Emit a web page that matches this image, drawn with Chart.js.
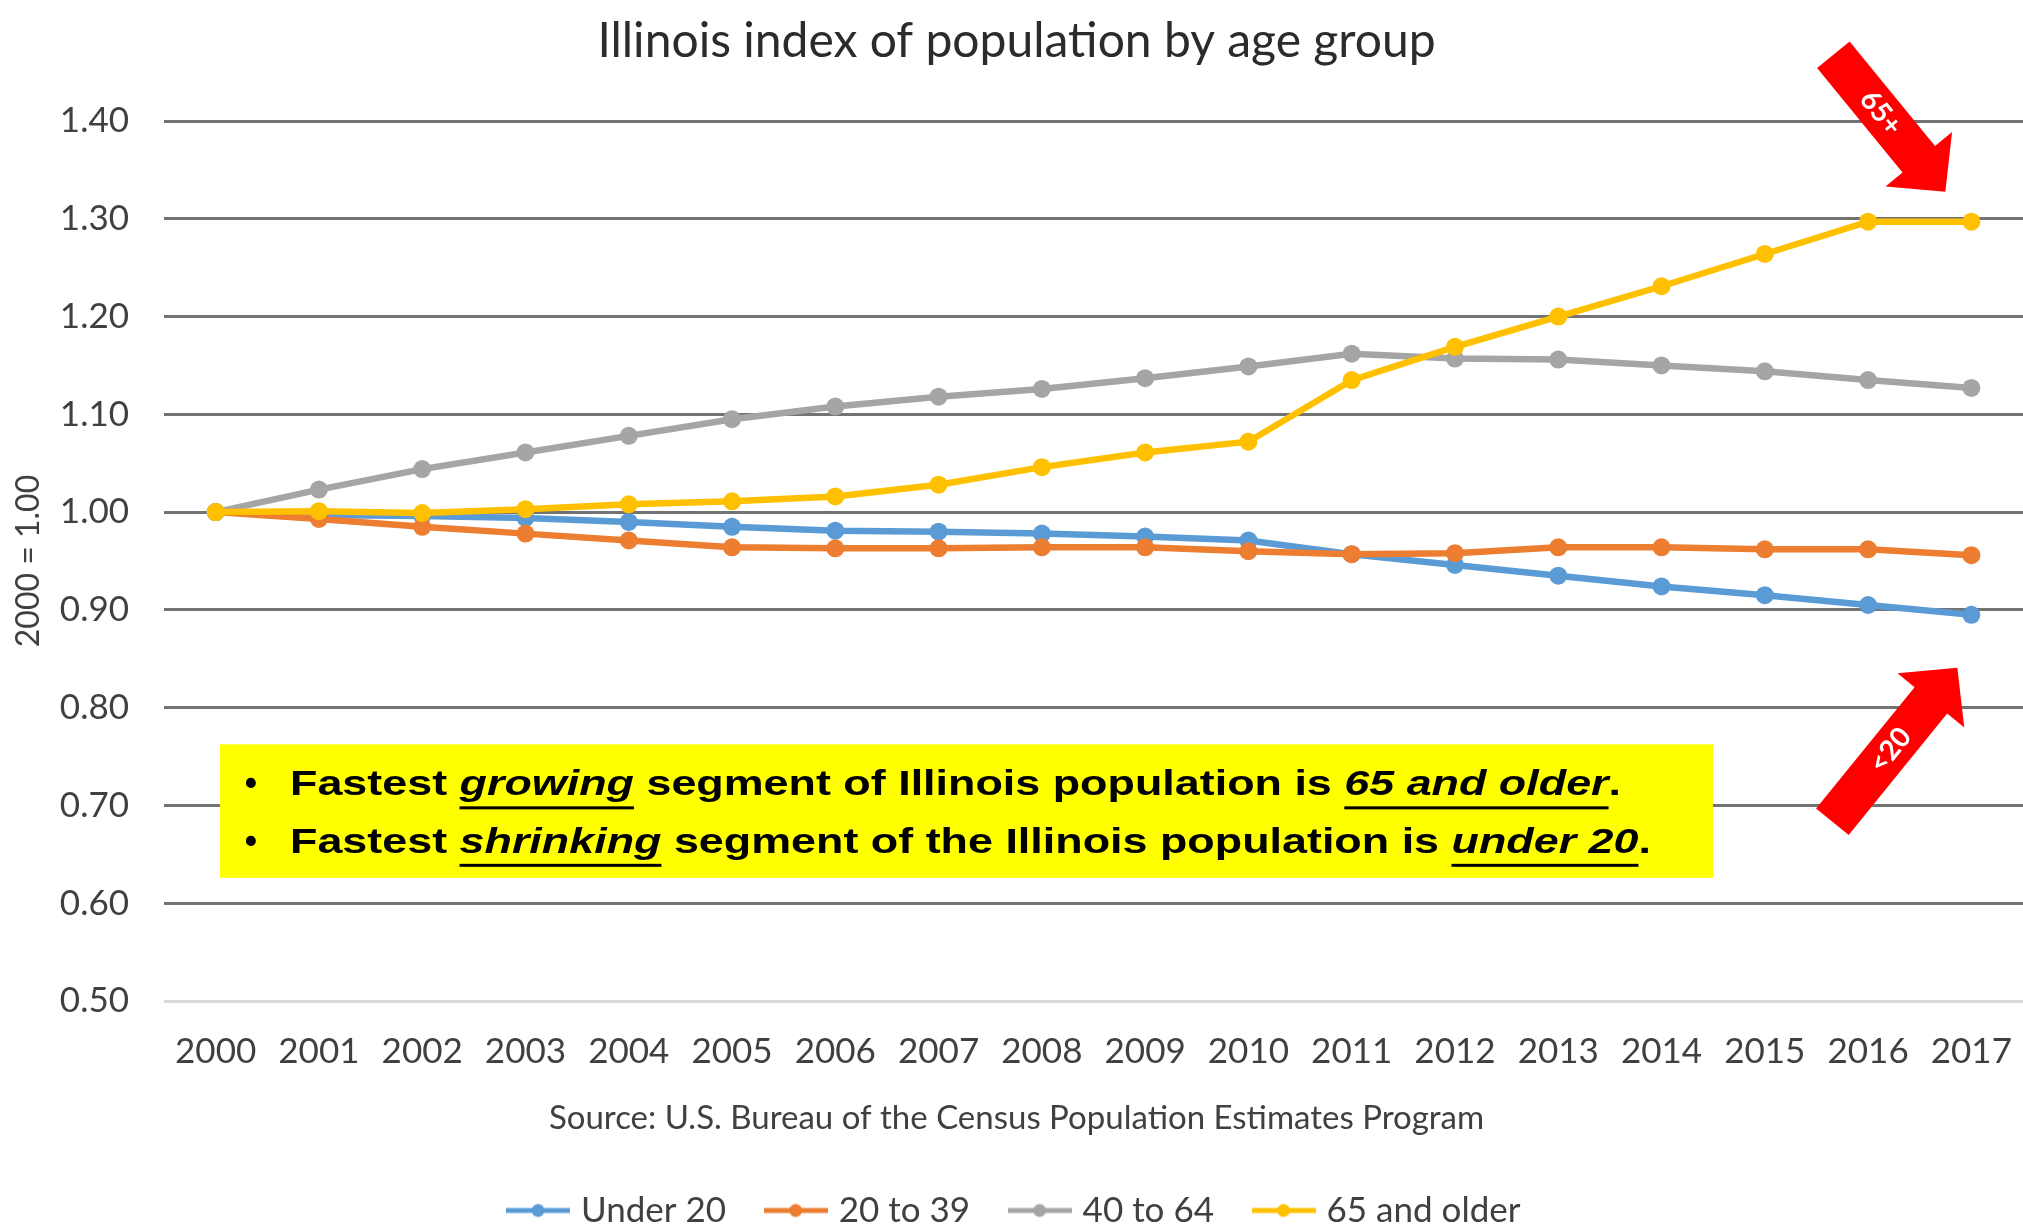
<!DOCTYPE html>
<html>
<head>
<meta charset="utf-8">
<title>Illinois index of population by age group</title>
<script src="https://cdn.jsdelivr.net/npm/chart.js@4.4.1/dist/chart.umd.min.js"></script>
<style>
  html, body { margin: 0; padding: 0; background: #fff; }
  #wrap { width: 2023px; height: 1225px; position: relative; }
</style>
</head>
<body>
<div id="wrap"><canvas id="popChart"></canvas></div>
<script>
const years = ['2000', '2001', '2002', '2003', '2004', '2005', '2006', '2007', '2008',
    '2009', '2010', '2011', '2012', '2013', '2014', '2015', '2016', '2017']

const under20 = [1.000, 0.997, 0.996, 0.994, 0.990, 0.985, 0.981, 0.980, 0.978,
    0.975, 0.971, 0.957, 0.946, 0.935, 0.924, 0.915, 0.905, 0.895]
const age20to39 = [1.000, 0.993, 0.985, 0.978, 0.971, 0.964, 0.963, 0.963, 0.964,
    0.964, 0.960, 0.957, 0.958, 0.964, 0.964, 0.962, 0.962, 0.956]
const age40to64 = [1.000, 1.023, 1.044, 1.061, 1.078, 1.095, 1.108, 1.118, 1.126,
    1.137, 1.149, 1.162, 1.157, 1.156, 1.150, 1.144, 1.135, 1.127]
const age65plus = [1.000, 1.001, 0.999, 1.003, 1.008, 1.011, 1.016, 1.028, 1.046,
    1.061, 1.072, 1.135, 1.169, 1.200, 1.231, 1.264, 1.297, 1.297]

const yTickValues = [0.5, 0.6, 0.7, 0.8, 0.9, 1.0, 1.1, 1.2, 1.3, 1.4]

const seriesNames = ['Under 20', '20 to 39', '40 to 64', '65 and older']
const seriesColors = ['#5B9BD5', '#ED7D31', '#A5A5A5', '#FFC000']

// yellow call-out text, italic parts are underlined
const noteLines = [
    [['Fastest ', false], ['growing', true], [' segment of Illinois population is ', false], ['65 and older', true], ['.', false]],
    [['Fastest ', false], ['shrinking', true], [' segment of the Illinois population is ', false], ['under 20', true], ['.', false]]
]

const textColor = '#404040'

// legend marker: short line with a dot, like Excel
const makeIcon = color => {
    const c = document.createElement('canvas')
    c.width = 64
    c.height = 20
    const g = c.getContext('2d')
    g.strokeStyle = color
    g.lineWidth = 5
    g.beginPath()
    g.moveTo(0, 10)
    g.lineTo(64, 10)
    g.stroke()
    g.fillStyle = color
    g.beginPath()
    g.arc(32, 10, 6.5, 0, Math.PI * 2)
    g.fill()
    return c
}
const legendIcons = seriesColors.map(makeIcon)

const drawArrow = (ctx, tx, ty, hx, hy, label, at) => {
    const len = Math.hypot(hx - tx, hy - ty)
    ctx.save()
    ctx.translate(tx, ty)
    ctx.rotate(Math.atan2(hy - ty, hx - tx))
    ctx.fillStyle = '#FF0000'
    ctx.beginPath()
    ctx.moveTo(0, -21)
    ctx.lineTo(len - 42, -21)
    ctx.lineTo(len - 42, -43)
    ctx.lineTo(len, 0)
    ctx.lineTo(len - 42, 43)
    ctx.lineTo(len - 42, 21)
    ctx.lineTo(0, 21)
    ctx.closePath()
    ctx.fill()
    ctx.fillStyle = '#fff'
    ctx.font = 'bold 28px Lato'
    ctx.textAlign = 'center'
    ctx.textBaseline = 'middle'
    ctx.fillText(label, at, 0)
    ctx.restore()
}

const notesPlugin = {
    id: 'notes',
    afterDraw(chart) {
        const ctx = chart.ctx
        const x = chart.scales.x
        const y = chart.scales.y
        const area = chart.chartArea

        // yellow box
        const left = area.left + 56
        const right = area.left + 1549
        const top = y.getPixelForValue(0.7625)
        const bottom = y.getPixelForValue(0.626)
        ctx.save()
        ctx.fillStyle = '#FFFF00'
        ctx.fillRect(left, top, right - left, bottom - top)

        const fontFor = it => (it ? 'italic ' : '') + 'bold 35px "Liberation Sans", Arial, sans-serif'
        const widthOf = parts => parts.reduce((w, [t, it]) => {
            ctx.font = fontFor(it)
            return w + ctx.measureText(t).width
        }, 0)
        const sx = 1331 / widthOf(noteLines[0])

        ctx.fillStyle = '#000'
        ctx.textBaseline = 'alphabetic'
        noteLines.forEach((parts, i) => {
            const base = top + 51 + i * 57.5
            ctx.font = fontFor(false)
            ctx.textAlign = 'center'
            ctx.fillText('\u2022', left + 31, base)
            ctx.save()
            ctx.translate(left + 70, base)
            ctx.scale(sx, 1)
            ctx.textAlign = 'left'
            let cx = 0
            parts.forEach(([t, it]) => {
                ctx.font = fontFor(it)
                const w = ctx.measureText(t).width
                ctx.fillText(t, cx, 0)
                if (it) ctx.fillRect(cx, 11, w, 3)
                cx += w
            })
            ctx.restore()
        })
        ctx.restore()

        // red arrows pointing at the last points
        const last = years.length - 1
        const tip1x = x.getPixelForValue(last) - 26
        const tip1y = y.getPixelForValue(age65plus[last]) - 30
        drawArrow(ctx, tip1x - 112, tip1y - 137, tip1x, tip1y, '65+', 75)

        const tip2x = x.getPixelForValue(last) - 14
        const tip2y = y.getPixelForValue(under20[last]) + 53
        drawArrow(ctx, tip2x - 125, tip2y + 154, tip2x, tip2y, '<20', 92)
    }
}

const makeSet = (i, values, order) => ({
    label: seriesNames[i],
    data: values,
    borderColor: seriesColors[i],
    backgroundColor: seriesColors[i],
    borderWidth: 6.5,
    pointRadius: 9,
    pointBorderWidth: 0,
    pointBackgroundColor: seriesColors[i],
    tension: 0,
    order: order
})

new Chart(document.getElementById('popChart'), {
    type: 'line',
    data: {
        labels: years,
        datasets: [
            makeSet(0, under20, 3),
            makeSet(1, age20to39, 2),
            makeSet(2, age40to64, 1),
            makeSet(3, age65plus, 0)
        ]
    },
    options: {
        responsive: true,
        maintainAspectRatio: false,
        animation: false,
        // the original picture is cut off a little on the right
        layout: { autoPadding: false, padding: { left: 0, right: -10, top: 0, bottom: -13 } },
        plugins: {
            title: {
                display: true,
                text: 'Illinois index of population by age group',
                color: '#2b2b2b',
                font: { family: 'Lato', size: 48, weight: 'normal' },
                padding: { top: 12.5, bottom: 50.9 }
            },
            // source line sits between the axis and the legend, centred on the page
            subtitle: {
                display: true,
                position: 'bottom',
                weight: 500,
                text: 'Source: U.S. Bureau of the Census Population Estimates Program',
                color: textColor,
                font: { family: 'Lato', size: 33, weight: 'normal' },
                padding: { top: 27.2, bottom: 11.2 }
            },
            legend: {
                position: 'bottom',
                labels: {
                    usePointStyle: true,
                    pointStyleWidth: 51,
                    padding: 44,
                    color: textColor,
                    font: { family: 'Lato', size: 35 },
                    generateLabels: chart => chart.data.datasets.map((ds, i) => ({
                        text: ds.label,
                        fillStyle: ds.borderColor,
                        strokeStyle: ds.borderColor,
                        lineWidth: 0,
                        pointStyle: legendIcons[i],
                        fontColor: textColor,
                        hidden: false,
                        datasetIndex: i
                    }))
                }
            },
            tooltip: { enabled: false }
        },
        scales: {
            x: {
                offset: true,
                // tick marks are hidden but their length still pushes the labels down
                grid: { display: false, tickLength: 19.5 },
                border: { display: false },
                ticks: {
                    color: textColor,
                    font: { family: 'Lato', size: 35 },
                    padding: 10,
                    maxRotation: 0,
                    autoSkip: false
                },
                afterFit: scale => { scale.height = 70 }
            },
            y: {
                min: 0.5,
                max: 1.4,
                afterBuildTicks: axis => {
                    axis.ticks = yTickValues.map(v => ({ value: v }))
                },
                grid: {
                    color: c => c.tick && c.tick.value === 0.5 ? '#d9d9d9' : '#737373',
                    lineWidth: 3,
                    drawTicks: false
                },
                border: { display: false },
                ticks: {
                    color: textColor,
                    font: { family: 'Lato', size: 35 },
                    padding: 35,
                    callback: v => Number(v).toFixed(2)
                },
                title: {
                    display: true,
                    text: '2000 = 1.00',
                    color: textColor,
                    font: { family: 'Lato', size: 32 },
                    padding: { top: 9, bottom: 0 }
                },
                afterFit: scale => { scale.width = 164 }
            }
        }
    },
    plugins: [notesPlugin]
})
</script>
</body>
</html>
